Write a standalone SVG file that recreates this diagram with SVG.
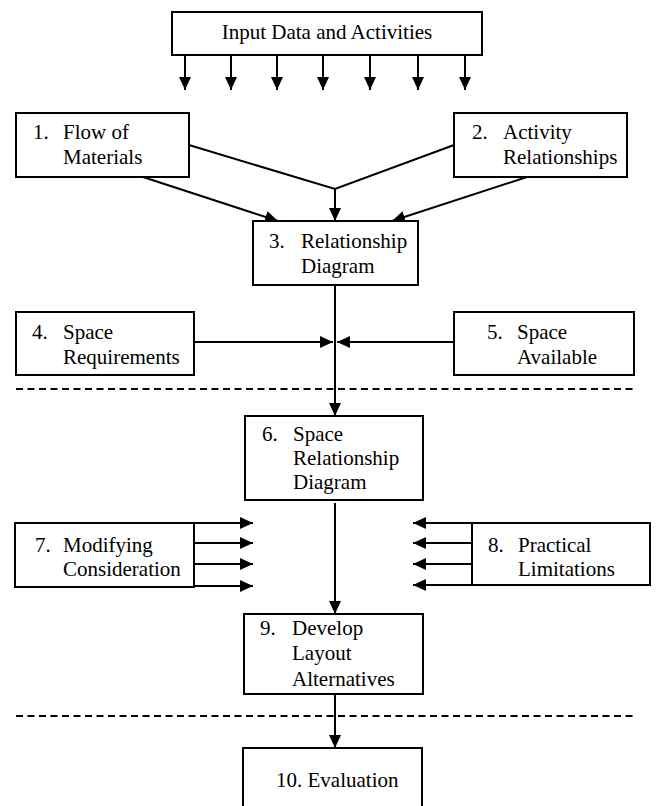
<svg xmlns="http://www.w3.org/2000/svg" width="656" height="806" viewBox="0 0 656 806">
<defs>
<marker id="ah" markerUnits="userSpaceOnUse" markerWidth="14" markerHeight="12" viewBox="0 0 14 12" refX="13" refY="6" orient="auto">
<path d="M0,0 L13,6 L0,12 Z" fill="#000"/>
</marker>
<style>
.box{fill:#fff;stroke:#000;stroke-width:2}
.t{font-family:'Liberation Serif','Times New Roman',serif;font-size:21px;fill:#000}
.c{fill:none;stroke:#000;stroke-width:2}
.a{fill:none;stroke:#000;stroke-width:2;marker-end:url(#ah)}
.d{fill:none;stroke:#000;stroke-width:2;stroke-dasharray:7 4.5}
</style>
</defs>
<rect width="656" height="806" fill="#fff"/>
<g id="connectors">
<line class="a" x1="185" y1="55" x2="185" y2="90"/>
<line class="a" x1="231" y1="55" x2="231" y2="90"/>
<line class="a" x1="277" y1="55" x2="277" y2="90"/>
<line class="a" x1="323" y1="55" x2="323" y2="90"/>
<line class="a" x1="370" y1="55" x2="370" y2="90"/>
<line class="a" x1="418" y1="55" x2="418" y2="90"/>
<line class="a" x1="465" y1="55" x2="465" y2="90"/>
<polyline class="c" points="189,145 335,189 454,145"/>
<line class="a" x1="335" y1="189" x2="335" y2="221"/>
<line class="a" x1="143" y1="177" x2="278" y2="221"/>
<line class="a" x1="527" y1="177" x2="392" y2="221"/>
<line class="a" x1="335" y1="285" x2="335" y2="416"/>
<line class="a" x1="194" y1="342" x2="333" y2="342"/>
<line class="a" x1="454" y1="342" x2="337" y2="342"/>
<line class="d" x1="16" y1="389" x2="636" y2="389"/>
<line class="a" x1="335" y1="503" x2="335" y2="614"/>
<line class="a" x1="194" y1="523" x2="253" y2="523"/>
<line class="a" x1="194" y1="543" x2="253" y2="543"/>
<line class="a" x1="194" y1="564" x2="253" y2="564"/>
<line class="a" x1="194" y1="586" x2="253" y2="586"/>
<line class="a" x1="472" y1="523" x2="413" y2="523"/>
<line class="a" x1="472" y1="543" x2="413" y2="543"/>
<line class="a" x1="472" y1="564" x2="413" y2="564"/>
<line class="a" x1="472" y1="585" x2="413" y2="585"/>
<line class="a" x1="335" y1="694" x2="335" y2="748"/>
<line class="d" x1="16" y1="716" x2="636" y2="716"/>
</g>
<g font-family="Liberation Serif, Times New Roman, serif">
<g id="input">
<rect class="box" x="172" y="12" width="310" height="43"/>
<text class="t" x="327" y="39" text-anchor="middle">Input Data and Activities</text>
</g>
<g id="n1">
<rect class="box" x="16" y="113" width="173" height="64"/>
<text class="t" x="33" y="139">1.</text>
<text class="t" x="63" y="139">Flow of</text>
<text class="t" x="63" y="164">Materials</text>
</g>
<g id="n2">
<rect class="box" x="454" y="113" width="173" height="64"/>
<text class="t" x="472" y="139">2.</text>
<text class="t" x="503" y="139">Activity</text>
<text class="t" x="503" y="164">Relationships</text>
</g>
<g id="n3">
<rect class="box" x="253" y="221" width="165" height="64"/>
<text class="t" x="269" y="248">3.</text>
<text class="t" x="301" y="248">Relationship</text>
<text class="t" x="301" y="273">Diagram</text>
</g>
<g id="n4">
<rect class="box" x="16" y="312" width="178" height="63"/>
<text class="t" x="32" y="339">4.</text>
<text class="t" x="63" y="339">Space</text>
<text class="t" x="63" y="364">Requirements</text>
</g>
<g id="n5">
<rect class="box" x="454" y="312" width="180" height="63"/>
<text class="t" x="487" y="339">5.</text>
<text class="t" x="517" y="339">Space</text>
<text class="t" x="517" y="364">Available</text>
</g>
<g id="n6">
<rect class="box" x="245" y="416" width="178" height="84"/>
<text class="t" x="262" y="441">6.</text>
<text class="t" x="293" y="441">Space</text>
<text class="t" x="293" y="465">Relationship</text>
<text class="t" x="293" y="489">Diagram</text>
</g>
<g id="n7">
<rect class="box" x="15" y="523" width="179" height="64"/>
<text class="t" x="35" y="552">7.</text>
<text class="t" x="63" y="552">Modifying</text>
<text class="t" x="63" y="576">Consideration</text>
</g>
<g id="n8">
<rect class="box" x="472" y="523" width="178" height="62"/>
<text class="t" x="488" y="552">8.</text>
<text class="t" x="518" y="552">Practical</text>
<text class="t" x="518" y="576">Limitations</text>
</g>
<g id="n9">
<rect class="box" x="244" y="614" width="179" height="80"/>
<text class="t" x="260" y="635">9.</text>
<text class="t" x="292" y="635">Develop</text>
<text class="t" x="292" y="660">Layout</text>
<text class="t" x="292" y="686">Alternatives</text>
</g>
<g id="n10">
<rect class="box" x="243" y="748" width="179" height="70"/>
<text class="t" x="276" y="787">10. Evaluation</text>
</g>
</g>
</svg>
